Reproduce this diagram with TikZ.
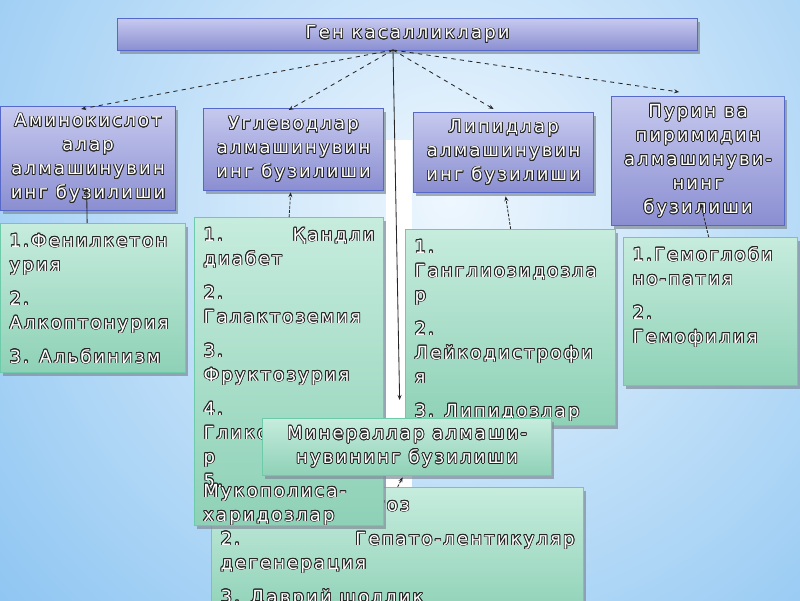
\documentclass[tikz,border=0pt]{standalone}
\usepackage{fontspec}
\setmainfont{DejaVu Sans}
\newfontfamily\slidefont[LetterSpace=12]{DejaVu Sans}
\usepackage{contour}
\contourlength{0.55pt}
\usetikzlibrary{shadows,calc,arrows.meta}

\newlength{\pxu}
\setlength{\pxu}{0.25mm}

\definecolor{bgout}{HTML}{80BEF0}
\definecolor{bgin}{HTML}{EEF7FE}
\definecolor{catedge}{HTML}{5668C8}
\definecolor{cattop}{HTML}{C6C9EE}
\definecolor{catbot}{HTML}{8A8ED1}
\definecolor{listedge}{HTML}{6ECBAA}
\definecolor{listtop}{HTML}{C6ECDD}
\definecolor{listbot}{HTML}{8ED1B7}
\definecolor{shadowgrey}{HTML}{7F8C99}

\newcommand{\ol}[1]{\contour{black!85}{#1}}
\newcommand{\boxfont}{\slidefont\fontsize{12.8pt}{17.07pt}\selectfont}
\newcommand{\gap}{\\[10\pxu]}
\newcommand{\itembox}[3]{\parbox[t][#1\pxu][t]{#2\pxu}{\raggedright\rule{0pt}{23.5\pxu}#3}}

\tikzset{
  catbox/.style={draw=catedge, line width=0.9pt, top color=cattop, bottom color=catbot,
    drop shadow={shadow xshift=0.5mm, shadow yshift=-0.75mm, fill=shadowgrey, opacity=0.7},
    inner sep=0pt, align=center, text=white, font=\boxfont, anchor=north west},
  listbox/.style={draw=listedge, line width=0.9pt, top color=listtop, bottom color=listbot,
    drop shadow={shadow xshift=0.5mm, shadow yshift=-0.75mm, fill=shadowgrey, opacity=0.7},
    inner xsep=2.25mm, inner ysep=0pt, text=white, font=\boxfont, anchor=north west},
  minbox/.style={listbox, inner sep=0pt, align=center},
  topline/.style={dashed, black!85, line width=0.6pt, -{Stealth[length=1.25mm, width=1mm]}},
  upline/.style={dash pattern=on 2pt off 1pt, black!85, line width=0.6pt, -{Stealth[length=1.25mm, width=1mm]}}
}

\begin{document}
\begin{tikzpicture}[x=0.25mm, y=-0.25mm]
  \useasboundingbox (0,0) rectangle (800,600);
  \clip (0,0) rectangle (800,600);
  % background
  \shade[inner color=bgin, outer color=bgout] (-250,-500) rectangle (1150,900);
  \fill[white] (386,140) rectangle (412,488);

  % title
  \node[catbox, minimum width=145mm, minimum height=8mm] (tGen) at (117,18) {\ol{Ген касалликлари}};
  \coordinate (hub) at (393,50);

  % lists
  \node[listbox] (lMineral) at (211,487) {\itembox{130}{354}{%
    \ol{1. Гемохроматоз}\gap
    \makebox[\linewidth]{\ol{2.}\hfill\ol{Гепато-лентикуляр}}\\\ol{дегенерация}\gap
    \ol{3. Даврий шоллик}}};
  \node[listbox] (lLipid) at (405,229) {\itembox{196}{192}{%
    \ol{1.}\\\ol{Ганглиозидозла}\\\ol{р}\gap
    \ol{2.}\\\ol{Лейкодистрофи}\\\ol{я}\gap
    \ol{3. Липидозлар}}};
  \node[listbox] (lUglevod) at (194,217) {\itembox{308}{171}{%
    \makebox[\linewidth]{\ol{1.}\hfill\ol{Қандли}}\\\ol{диабет}\gap
    \ol{2.}\\\ol{Галактоземия}\gap
    \ol{3.}\\\ol{Фруктозурия}\gap
    \ol{4.}\\\ol{Гликогенозла}\\\ol{р}\\\ol{5.}}};
  \node[listbox] (lAmino) at (0,223) {\itembox{149}{167}{%
    \ol{1.Фенилкетон}\\\ol{урия}\gap
    \ol{2.}\\\ol{Алкоптонурия}\gap
    \ol{3. Альбинизм}}};
  \node[listbox] (lPurin) at (623,237) {\itembox{148}{156}{%
    \ol{1.Гемоглоби}\\\ol{но-патия}\gap
    \ol{2.}\\\ol{Гемофилия}}};

  % groups
  \node[catbox, minimum width=43.75mm, minimum height=26mm] (cAmino) at (0,106)
    {\ol{Аминокислот}\\\ol{алар}\\\ol{алмашинувин}\\\ol{инг бузилиши}};
  \node[catbox, minimum width=45mm, minimum height=20.5mm] (cUglevod) at (203,108)
    {\ol{Углеводлар}\\\ol{алмашинувин}\\\ol{инг бузилиши}};
  \node[catbox, minimum width=45mm, minimum height=20mm] (cLipid) at (413,112)
    {\ol{Липидлар}\\\ol{алмашинувин}\\\ol{инг бузилиши}};
  \node[catbox, minimum width=43.25mm, minimum height=32.25mm] (cPurin) at (611,96)
    {\ol{Пурин ва}\\\ol{пиримидин}\\\ol{алмашинуви-}\\\ol{нинг}\\\ol{бузилиши}};
  \node[minbox, minimum width=72.25mm, minimum height=14.25mm] (cMineral) at (262,418)
    {\ol{Минераллар алмаши-}\\\ol{нувининг бузилиши}};
  \node[anchor=base west, inner sep=0pt, text=white, font=\boxfont] (tMuko) at (203,497)
    {\parbox[t]{43.75mm}{\raggedright\ol{Мукополиса-}\\\ol{харидозлар}}};

  % connectors
  \draw[topline] (hub) -- ($(cAmino.north)+(-7,3)$);
  \draw[topline] (hub) -- ($(cUglevod.north)+(-5,2)$);
  \draw[topline] (hub) -- ($(cLipid.north)+(-10,-3)$);
  \draw[topline] (hub) -- ($(cPurin.north)+(-19,-4)$);
  \draw[black!85, line width=0.6pt, -{Stealth[length=1.25mm, width=1mm]}] (hub) -- ($(cMineral.north)+(-7.5,-18)$);
  \draw[upline, solid] ($(lAmino.north)+(-6,0)$) -- ($(cAmino.south)+(-1.5,-23)$);
  \draw[upline] (lUglevod.north) -- ($(cUglevod.south)+(-3,1)$);
  \draw[upline] (lLipid.north) -- ($(cLipid.south)+(2,3)$);
  \draw[upline] ($(lPurin.north)+(-2,0)$) -- ($(cPurin.south)+(2.5,-23)$);
  \draw[upline] (lMineral.north) -- ($(cMineral.south)+(-4.5,1)$);
\end{tikzpicture}
\end{document}
